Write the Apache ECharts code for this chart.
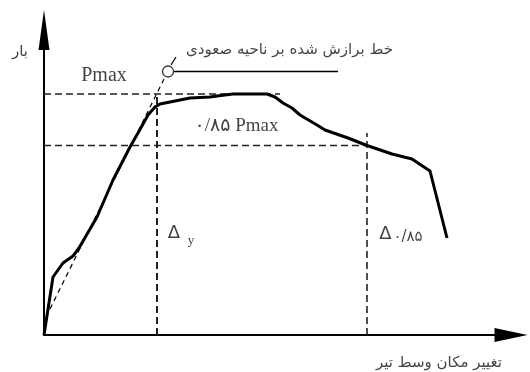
<!DOCTYPE html>
<html>
<head>
<meta charset="utf-8">
<script src="https://cdn.jsdelivr.net/npm/echarts@6/dist/echarts.min.js"></script>
<style>html,body{margin:0;padding:0;background:#fff}#c{width:530px;height:372px}</style>
</head>
<body>
<div id="c"></div>
<script>
// Load–midspan displacement curve (schematic units)
const loadCurve = [
  [0,0],[9,58],[19,72],[29,79],[35,87],[53,118],[69,155],[86,188],[94,202],
  [104,220],[111,228],[116,231],[126,233],[136,235],[146,237],[166,238],
  [173,239],[189,241],[223,241],[231,238],[239,232],[248,227],[256,220],
  [273,210],[281,205],[304,197],[323,189.5],[348,181],[368,176],[386,164],[403,97]
];
// fitted line on ascending branch
const fitLine = [[2,18],[120,256]];
const fitTick = [[127,270],[132,278]];
const fitPoint = [[124,263.5]];
const leaderLine = [[130,263.5],[294,263.5]];
// reference levels
const pmaxLevel = 241;
const p85Level = 189.5;
const deltaY = 113;
const delta85 = 323;
const pmaxLine = [[0,pmaxLevel],[236,pmaxLevel]];
const p85Line = [[0,p85Level],[delta85,p85Level]];
const dyLine = [[deltaY,0],[deltaY,pmaxLevel]];
const d85Line = [[delta85,0],[delta85,202]];
// texts
const yTitle = 'بار';
const xTitle = 'تغییر مکان وسط تیر';
const fitTitle = 'خط برازش شده بر ناحیه صعودی';
const pmaxText = 'Pmax';
const p85Text = '۰/۸۵ Pmax';
const deltaText = 'Δ';
const ySub = 'y';
const d85Sub = '۰/۸۵';

const serif = "'Liberation Serif','DejaVu Sans',serif";
const fa = "'DejaVu Sans',sans-serif";

function txt(x, y, text, size, family, align) {
  return {
    value: [x, y],
    label: { show: true, formatter: text, fontSize: size, fontFamily: family, color: '#111',
             position: [0, 0], align: align || 'center', verticalAlign: 'middle' }
  };
}

const annotations = [
  txt(-24, 283, yTitle, 15, fa),
  txt(458, -28, xTitle, 15, fa, 'right'),
  txt(349, 285, fitTitle, 15, fa, 'right'),
  txt(60, 259, pmaxText, 20, serif),
  txt(192.5, 209, p85Text, 19, serif),
  txt(130, 102, deltaText, 18, fa),
  txt(147, 94, ySub, 13, serif),
  txt(341.5, 100.5, deltaText, 18, fa),
  txt(364, 98, d85Sub, 15, fa)
];

function lineSeries(data, width, type, color) {
  return {
    type: 'line', data: data, symbol: 'none', silent: true, animation: false,
    lineStyle: { color: color || '#000', width: width, type: type || 'solid', cap: 'butt', join: 'round' },
    z: 3
  };
}

const chart = echarts.init(document.getElementById('c'));
chart.setOption({
  animation: false,
  grid: { left: 44, top: 30, right: 19, bottom: 37 },
  xAxis: {
    type: 'value', min: 0, max: 467,
    axisLine: { show: true, lineStyle: { color: '#000', width: 2 }, symbol: ['none', 'triangle'], symbolSize: [14, 33] },
    axisTick: { show: false }, axisLabel: { show: false }, splitLine: { show: false }
  },
  yAxis: {
    type: 'value', min: 0, max: 305,
    axisLine: { show: true, lineStyle: { color: '#000', width: 2 }, symbol: ['none', 'triangle'], symbolSize: [11, 40] },
    axisTick: { show: false }, axisLabel: { show: false }, splitLine: { show: false }
  },
  series: [
    lineSeries(pmaxLine, 1.6, [7, 4], '#222'),
    lineSeries(p85Line, 1.6, [7, 4], '#222'),
    lineSeries(dyLine, 2, [7, 4], '#222'),
    lineSeries(d85Line, 1.6, [7, 4], '#222'),
    lineSeries(fitLine, 1.2, [5, 4], '#000'),
    lineSeries(fitTick, 1.2, 'solid', '#000'),
    lineSeries(leaderLine, 1.5, 'solid', '#000'),
    Object.assign(lineSeries(loadCurve, 3, 'solid', '#000'), { z: 5 }),
    {
      type: 'scatter', data: fitPoint, symbol: 'circle', symbolSize: 11, silent: true,
      itemStyle: { color: '#fff', borderColor: '#000', borderWidth: 1.3 }, z: 6
    },
    {
      type: 'scatter', data: annotations, symbolSize: 0, clip: false, silent: true, z: 7
    }
  ]
});
</script>
</body>
</html>
